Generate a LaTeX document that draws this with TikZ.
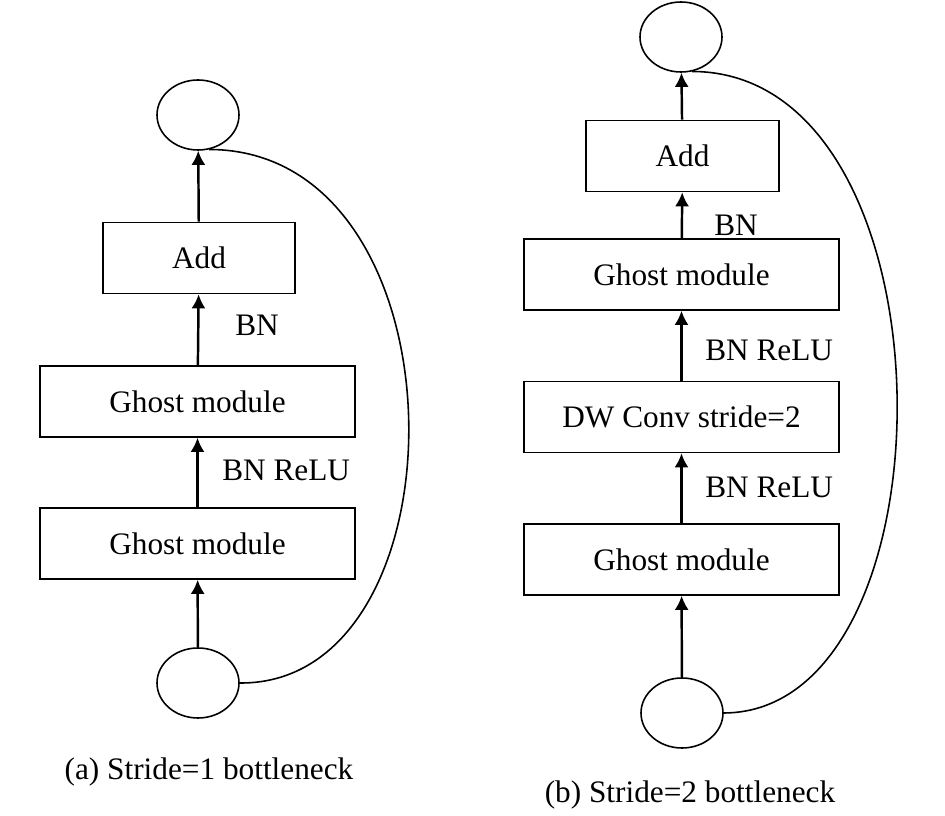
\documentclass[tikz,border=0pt]{standalone}
\usepackage{fontspec}
\setmainfont{Liberation Serif}
\usetikzlibrary{arrows.meta,shapes.geometric}

\tikzset{
  layer/.style={draw, line width=0.9pt, minimum height=1.42cm, inner sep=0pt},
  wide/.style={layer, minimum width=6.3cm},
  narrow/.style={layer, minimum width=3.85cm},
  blob/.style={draw, ellipse, line width=0.9pt, minimum width=1.64cm, minimum height=1.40cm, inner sep=0pt},
  flow/.style={line width=1.4pt, -{Latex[length=8pt,width=8pt]}},
  skip/.style={line width=0.9pt},
  lbl/.style={anchor=west, inner sep=0pt}
}

\begin{document}
\begin{tikzpicture}[font=\fontsize{17.8}{20}\selectfont]
\useasboundingbox (0,0) rectangle (18.9,16.3);
%----------------- Panel (a): stride 1 -----------------
\node[blob] (outa) at (3.96,14.0) {};
\node[narrow] (adda) at (3.98,11.14) {Add};
\node[wide] (ghosta2) at (3.95,8.27) {Ghost module};
\node[wide] (ghosta1) at (3.95,5.43) {Ghost module};
\node[blob] (ina) at (3.96,2.64) {};
% main path
\draw[flow] (ina) -- (ghosta1);
\draw[flow] (ghosta1) -- (ghosta2);
\draw[flow] (ghosta2) -- (adda);
\draw[flow] (adda) -- (outa);
\node[lbl] (bna) at (4.70,9.80) {BN};
\node[lbl] (relua) at (4.44,6.90) {BN ReLU};
% shortcut
\draw[skip] (ina.east) .. controls (9.4,2.6) and (9.4,13.3) .. (outa.-72);
\node (capa) at (4.18,0.86) {(a) Stride=1 bottleneck};
%----------------- Panel (b): stride 2 -----------------
\node[blob] (outb) at (13.62,15.56) {};
\node[narrow] (addb) at (13.65,13.18) {Add};
\node[wide] (ghostb2) at (13.63,10.81) {Ghost module};
\node[wide] (dwb) at (13.63,7.96) {DW Conv stride=2};
\node[wide] (ghostb1) at (13.63,5.11) {Ghost module};
\node[blob] (inb) at (13.64,2.04) {};
% main path
\draw[flow] (inb) -- (ghostb1);
\draw[flow] (ghostb1) -- (dwb);
\draw[flow] (dwb) -- (ghostb2);
\draw[flow] (ghostb2) -- (addb);
\draw[flow] (addb) -- (outb);
\node[lbl] (bnb) at (14.28,11.80) {BN};
\node[lbl] (relub1) at (14.10,9.30) {BN ReLU};
\node[lbl] (relub2) at (14.10,6.56) {BN ReLU};
% shortcut
\draw[skip] (inb.east) .. controls (19.2,2.06) and (19.2,14.86) .. (outb.-72);
\node (capb) at (13.80,0.40) {(b) Stride=2 bottleneck};
\end{tikzpicture}
\end{document}
